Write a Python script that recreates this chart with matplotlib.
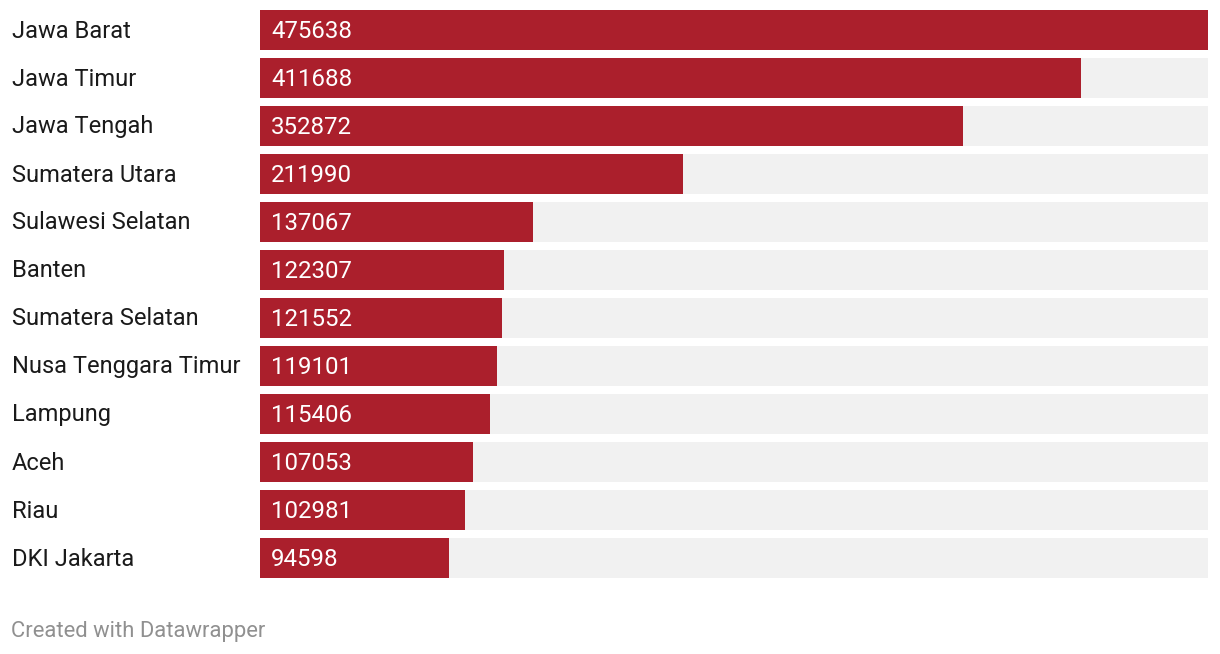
import matplotlib.pyplot as plt

provinces = ["Jawa Barat", "Jawa Timur", "Jawa Tengah", "Sumatera Utara",
             "Sulawesi Selatan", "Banten", "Sumatera Selatan",
             "Nusa Tenggara Timur", "Lampung", "Aceh", "Riau", "DKI Jakarta"]
values = [475638, 411688, 352872, 211990, 137067, 122307, 121552,
          119101, 115406, 107053, 102981, 94598]

plt.rcParams['font.family'] = ['Roboto', 'DejaVu Sans']

W, H = 1220, 654
fig = plt.figure(figsize=(W / 100, H / 100), dpi=100)
ax = fig.add_axes([260 / W, 1 - 582 / H, 948 / W, 576 / H])

vmax = max(values)
ypos = list(range(len(values)))
ax.barh(ypos, [vmax] * len(values), height=40 / 48, color='#f1f1f1', zorder=1)
ax.barh(ypos, values, height=40 / 48, color='#ab1f2c', zorder=2)

for y, v, name in zip(ypos, values, provinces):
    ax.text(vmax * 11 / 948, y + 0.04, str(v), color='white', fontsize=17.3,
            va='center', ha='left', zorder=3)
    fig.text(12 / W, 1 - (31 + 48 * y) / H, name, color='#1a1a1a',
             fontsize=17, va='center', ha='left')

ax.set_xlim(0, vmax)
ax.set_ylim(len(values) - 0.5, -0.5)
ax.axis('off')

fig.text(11 / W, 1 - 632 / H, "Created with Datawrapper", color='#909090',
         fontsize=15.8, va='center', ha='left')

fig.savefig("out.png", dpi=100)
